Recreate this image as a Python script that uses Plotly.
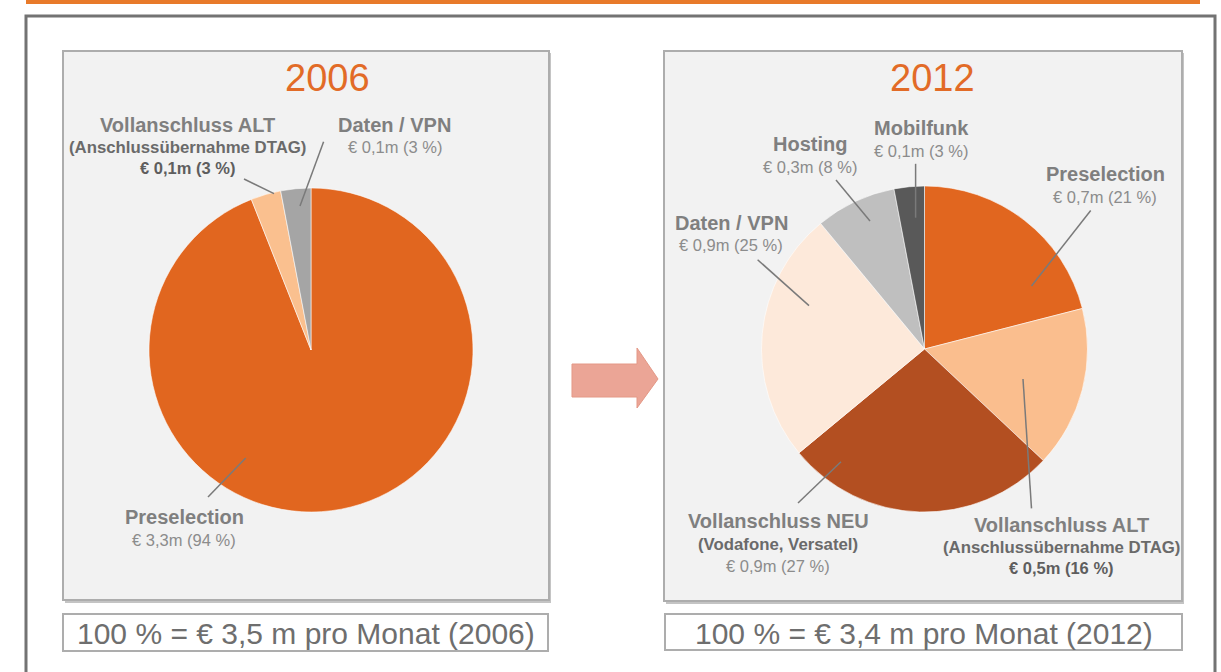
import plotly.graph_objects as go

W, H = 1221, 672

# ---------------- data ----------------
cats_2006 = ["Preselection", "Vollanschluss ALT", "Daten / VPN"]
eur_2006 = [3.3, 0.1, 0.1]
pct_2006 = [94, 3, 3]
col_2006 = ["#E1661F", "#FAC08F", "#A5A5A5"]

cats_2012 = ["Preselection", "Vollanschluss ALT", "Vollanschluss NEU", "Daten / VPN", "Hosting", "Mobilfunk"]
eur_2012 = [0.7, 0.5, 0.9, 0.9, 0.3, 0.1]
pct_2012 = [21, 16, 27, 25, 8, 3]
col_2012 = ["#E1661F", "#FABE8E", "#B34F21", "#FDE9DA", "#BFBFBF", "#595959"]

years = ["2006", "2012"]
totals = [3.5, 3.4]
subtitles = {"Vollanschluss ALT": "(Anschlussübernahme DTAG)", "Vollanschluss NEU": "(Vodafone, Versatel)"}
bold_values = {"Vollanschluss ALT"}


def X(px):
    return px / W


def Y(py):
    return 1 - py / H


def money(v, p):
    return ("€ %.1fm (%d %%)" % (v, p)).replace(".", ",")


FONT = "Liberation Sans, Arial, sans-serif"
ORANGE = "#E26B27"

fig = go.Figure()

# pies: (center px, radius px)
pie_geom = [((311, 350), 162), ((924.5, 349), 163)]
for (cats, vals, cols), ((cx, cy), r) in zip(
        [(cats_2006, pct_2006, col_2006), (cats_2012, pct_2012, col_2012)], pie_geom):
    fig.add_trace(go.Pie(
        labels=cats, values=vals, sort=False, direction="clockwise", rotation=0,
        marker=dict(colors=cols, line=dict(color="rgba(255,255,255,0.7)", width=0.8)),
        textinfo="none", hoverinfo="label+percent", showlegend=False,
        domain=dict(x=[X(cx - r), X(cx + r)], y=[Y(cy + r), Y(cy - r)]),
    ))

shapes = []
# orange top line
shapes.append(dict(type="rect", xref="paper", yref="paper", x0=X(26), x1=X(1200), y0=Y(4), y1=Y(0),
                   fillcolor="#E87A2A", line=dict(width=0), layer="below"))
# outer frame (3 sides)
shapes.append(dict(type="path", xref="paper", yref="paper",
                   path="M %f %f L %f %f L %f %f L %f %f" % (X(26), Y(680), X(26), Y(16), X(1215), Y(16), X(1215), Y(680)),
                   line=dict(color="#737373", width=3), layer="below"))
# panels with shadow
panels = [(63, 549, 51, 600), (664, 1182, 51, 601)]
for x0, x1, y0, y1 in panels:
    shapes.append(dict(type="rect", xref="paper", yref="paper", x0=X(x0 + 2), x1=X(x1 + 2), y0=Y(y1 + 3), y1=Y(y0 + 2),
                       fillcolor="#C4C4C4", line=dict(width=0), layer="below"))
    shapes.append(dict(type="rect", xref="paper", yref="paper", x0=X(x0), x1=X(x1), y0=Y(y1), y1=Y(y0),
                       fillcolor="#F2F2F2", line=dict(color="#ADADAD", width=2), layer="below"))
# bottom boxes
boxes = [(63, 548, 614, 651), (665, 1182, 614, 650)]
for x0, x1, y0, y1 in boxes:
    shapes.append(dict(type="rect", xref="paper", yref="paper", x0=X(x0), x1=X(x1), y0=Y(y1), y1=Y(y0),
                       fillcolor="#FFFFFF", line=dict(color="#ADADAD", width=2), layer="below"))
# arrow
shapes.append(dict(type="path", xref="paper", yref="paper",
                   path="M %f %f L %f %f L %f %f L %f %f L %f %f L %f %f L %f %f Z" % (
                       X(572), Y(364), X(637), Y(364), X(637), Y(348), X(658), Y(379),
                       X(637), Y(408), X(637), Y(397), X(572), Y(397)),
                   fillcolor="#EBA596", line=dict(color="#E49886", width=1), layer="below"))

annotations = []
# titles
for yr, cx in zip(years, [327, 932]):
    annotations.append(dict(text=yr, x=X(cx), y=Y(78.5), xref="paper", yref="paper", showarrow=False,
                            xanchor="center", yanchor="middle", font=dict(family=FONT, size=38, color=ORANGE)))
# total boxes
for yr, tot, (x0, x1, y0, y1) in zip(years, totals, boxes):
    txt = ("100 %% = € %.1f m pro Monat (%s)" % (tot, yr)).replace(".", ",")
    annotations.append(dict(text=txt, x=X((x0 + x1) / 2), y=Y((y0 + y1) / 2 + 1), xref="paper", yref="paper",
                            showarrow=False, xanchor="center", yanchor="middle",
                            font=dict(family=FONT, size=30, color="#6E6E6E")))

# label layout: category -> (center x, line ys, leader start, leader end)
layout_2006 = {
    "Preselection": (184, [517, 540], (208, 497), (245.7, 458)),
    "Vollanschluss ALT": (187.5, [124.6, 147, 168], (244, 179), (274, 193.6)),
    "Daten / VPN": (394.5, [124.6, 147], (323.6, 141.8), (300, 206)),
}
layout_2012 = {
    "Preselection": (1105, [173.5, 197], (1090.7, 210.5), (1031.5, 286)),
    "Vollanschluss ALT": (1061.5, [524.6, 547, 568], (1031.5, 508.4), (1023, 379)),
    "Vollanschluss NEU": (778, [521, 544, 566], (798, 503), (841, 461.7)),
    "Daten / VPN": (731, [223, 245], (757.6, 259.7), (809, 305.6)),
    "Hosting": (810, [144, 167.4], (836, 180), (870, 221)),
    "Mobilfunk": (921, [128, 150.5], (915.6, 163.8), (915.6, 217.7)),
}

for cats, eur, pct, lay in [(cats_2006, eur_2006, pct_2006, layout_2006), (cats_2012, eur_2012, pct_2012, layout_2012)]:
    for c, v, p in zip(cats, eur, pct):
        cx, ys, (lx0, ly0), (lx1, ly1) = lay[c]
        lines = [(c, dict(family=FONT, size=20, color="#7F7F7F", weight="bold"))]
        if c in subtitles:
            lines.append((subtitles[c], dict(family=FONT, size=16.8, color="#6A6A6A", weight="bold")))
        if c in bold_values:
            lines.append((money(v, p), dict(family=FONT, size=16.5, color="#5E5E5E", weight="bold")))
        else:
            lines.append((money(v, p), dict(family=FONT, size=16.5, color="#8C8C8C")))
        for (t, f), yy in zip(lines, ys):
            annotations.append(dict(text=t, x=X(cx), y=Y(yy), xref="paper", yref="paper", showarrow=False,
                                    xanchor="center", yanchor="middle", font=f))
        shapes.append(dict(type="line", xref="paper", yref="paper", x0=X(lx0), y0=Y(ly0), x1=X(lx1), y1=Y(ly1),
                           line=dict(color="#7A7A7A", width=1.5), layer="above"))

fig.update_layout(width=W, height=H, margin=dict(l=0, r=0, t=0, b=0), paper_bgcolor="#FFFFFF",
                  plot_bgcolor="#FFFFFF", shapes=shapes, annotations=annotations)

fig.write_html("out.html", config=dict(displayModeBar=False),
               post_script="document.body.style.margin='0';document.body.style.overflow='hidden';")
